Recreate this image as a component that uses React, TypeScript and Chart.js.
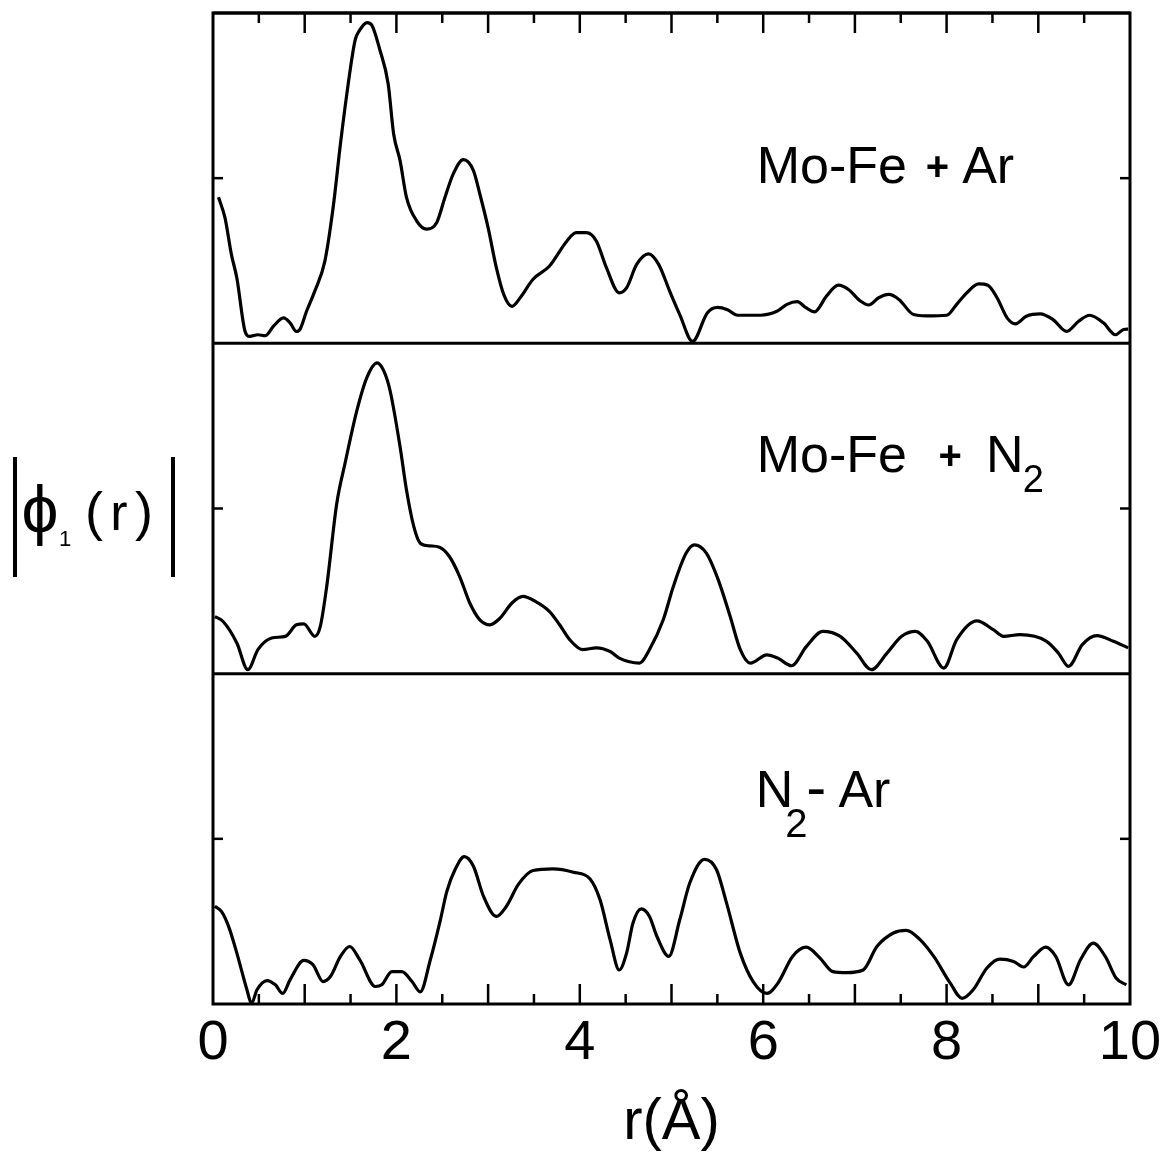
import { useEffect, useRef } from "react";
import { Chart, registerables } from "chart.js";

Chart.register(...registerables);

// ---- Data (r in Å, |phi1(r)| in arbitrary units, each panel spans 0..10) ----
const rMoFeAr = [0.06, 0.13, 0.2, 0.26, 0.35, 0.4, 0.49, 0.57, 0.66, 0.77, 0.84, 0.91, 0.95, 1.02, 1.11, 1.22, 1.31, 1.39, 1.46, 1.55, 1.6, 1.68, 1.73, 1.82, 1.91, 1.97, 2.04, 2.11, 2.22, 2.33, 2.44, 2.53, 2.62, 2.73, 2.84, 2.91, 3.0, 3.09, 3.17, 3.26, 3.35, 3.49, 3.67, 3.86, 3.96, 4.07, 4.18, 4.29, 4.43, 4.51, 4.62, 4.75, 4.86, 4.98, 5.09, 5.23, 5.39, 5.5, 5.61, 5.72, 5.97, 6.15, 6.26, 6.37, 6.47, 6.56, 6.69, 6.82, 6.93, 7.06, 7.15, 7.26, 7.37, 7.48, 7.64, 7.78, 8.0, 8.11, 8.22, 8.35, 8.45, 8.55, 8.66, 8.75, 8.87, 9.02, 9.16, 9.31, 9.44, 9.56, 9.71, 9.84, 9.93, 9.98];
const vMoFeAr = [4.42, 3.81, 2.7, 1.98, 0.36, 0.21, 0.26, 0.23, 0.52, 0.77, 0.62, 0.36, 0.43, 0.97, 1.58, 2.49, 4.11, 6.04, 7.56, 9.18, 9.48, 9.71, 9.64, 8.88, 7.86, 6.34, 5.53, 4.42, 3.71, 3.46, 3.66, 4.42, 5.13, 5.56, 5.23, 4.52, 3.5, 2.29, 1.48, 1.12, 1.38, 1.94, 2.34, 3.1, 3.35, 3.35, 3.1, 2.29, 1.53, 1.68, 2.39, 2.71, 2.39, 1.58, 0.87, 0.06, 0.92, 1.09, 1.02, 0.85, 0.85, 0.97, 1.18, 1.26, 1.07, 0.95, 1.43, 1.76, 1.63, 1.28, 1.16, 1.38, 1.48, 1.33, 0.87, 0.83, 0.85, 1.18, 1.53, 1.8, 1.76, 1.38, 0.77, 0.59, 0.82, 0.89, 0.72, 0.36, 0.67, 0.85, 0.62, 0.26, 0.42, 0.43];

const rMoFeN2 = [0.02, 0.11, 0.26, 0.38, 0.49, 0.64, 0.79, 0.91, 0.99, 1.11, 1.17, 1.24, 1.35, 1.44, 1.57, 1.68, 1.79, 1.86, 1.93, 2.04, 2.11, 2.19, 2.26, 2.36, 2.47, 2.58, 2.69, 2.8, 2.91, 3.02, 3.13, 3.26, 3.38, 3.52, 3.67, 3.78, 3.89, 4.03, 4.18, 4.33, 4.43, 4.65, 4.76, 4.91, 5.02, 5.16, 5.25, 5.38, 5.51, 5.64, 5.75, 5.86, 6.04, 6.16, 6.31, 6.47, 6.65, 6.84, 7.02, 7.18, 7.35, 7.51, 7.66, 7.79, 7.97, 8.11, 8.33, 8.51, 8.62, 8.8, 9.09, 9.22, 9.33, 9.48, 9.64, 9.82, 9.98];
const vMoFeN2 = [1.73, 1.58, 0.93, 0.12, 0.73, 1.08, 1.13, 1.48, 1.51, 1.13, 1.43, 2.64, 5.16, 6.37, 7.98, 8.98, 9.41, 9.18, 8.58, 6.87, 5.56, 4.45, 3.95, 3.87, 3.83, 3.54, 2.94, 2.14, 1.63, 1.48, 1.68, 2.14, 2.34, 2.18, 1.88, 1.48, 1.03, 0.73, 0.78, 0.67, 0.47, 0.32, 0.73, 1.63, 2.64, 3.65, 3.9, 3.65, 2.84, 1.73, 0.73, 0.32, 0.57, 0.47, 0.24, 0.82, 1.28, 1.13, 0.62, 0.12, 0.62, 1.13, 1.28, 0.98, 0.17, 1.03, 1.6, 1.33, 1.13, 1.18, 0.98, 0.62, 0.22, 0.88, 1.15, 0.98, 0.78];

const rN2Ar = [0.02, 0.09, 0.17, 0.26, 0.37, 0.42, 0.48, 0.59, 0.68, 0.76, 0.84, 0.99, 1.09, 1.2, 1.28, 1.39, 1.49, 1.6, 1.77, 1.84, 1.95, 2.06, 2.17, 2.26, 2.37, 2.48, 2.55, 2.64, 2.74, 2.84, 2.95, 3.09, 3.2, 3.33, 3.49, 3.71, 3.93, 4.11, 4.22, 4.33, 4.43, 4.51, 4.58, 4.67, 4.76, 4.84, 4.97, 5.09, 5.2, 5.36, 5.49, 5.6, 5.75, 5.89, 6.04, 6.16, 6.32, 6.47, 6.62, 6.76, 6.91, 7.09, 7.24, 7.42, 7.56, 7.71, 7.86, 8.04, 8.17, 8.29, 8.44, 8.58, 8.73, 8.84, 8.95, 9.08, 9.19, 9.33, 9.46, 9.6, 9.73, 9.85, 9.96];
const vN2Ar = [2.96, 2.81, 2.35, 1.54, 0.43, 0.02, 0.43, 0.71, 0.58, 0.32, 0.73, 1.32, 1.19, 0.68, 0.83, 1.44, 1.74, 1.34, 0.53, 0.58, 0.98, 0.98, 0.68, 0.37, 1.34, 2.55, 3.41, 4.07, 4.46, 4.17, 3.26, 2.65, 2.96, 3.62, 4.04, 4.09, 3.99, 3.79, 3.16, 1.95, 1.03, 1.54, 2.45, 2.88, 2.65, 2.05, 1.44, 2.55, 3.67, 4.38, 4.07, 3.06, 1.54, 0.68, 0.32, 0.63, 1.44, 1.72, 1.39, 0.98, 0.95, 1.03, 1.74, 2.15, 2.23, 1.95, 1.44, 0.63, 0.17, 0.43, 1.09, 1.36, 1.29, 1.12, 1.44, 1.72, 1.44, 0.58, 1.34, 1.84, 1.44, 0.78, 0.58];

const xTickLabels = [0, 2, 4, 6, 8, 10];
const xMin = 0;
const xMax = 10;
const panelMin = 0;
const panelMax = 10;
const minorTickStep = 0.5;
const xTitle = "r(Å)";

const FONT = '"Liberation Sans", Arial, Helvetica, sans-serif';

const toPoints = (xs: number[], ys: number[]) => xs.map((x, i) => ({ x, y: ys[i] }));

function drawText(
  ctx: CanvasRenderingContext2D,
  text: string,
  x: number,
  y: number,
  size: number,
  align: CanvasTextAlign = "left",
  weight = "normal"
) {
  ctx.font = `${weight} ${size}px ${FONT}`;
  ctx.textAlign = align;
  ctx.textBaseline = "alphabetic";
  ctx.fillText(text, x, y);
}

const framePlugin = {
  id: "framePlugin",
  afterDatasetsDraw(chart: any) {
    const { ctx, chartArea: a, scales } = chart;
    const xs = scales.x;
    const yTop = scales.yAr;
    const yMid = scales.yN2;
    const yBot = scales.yDiff;
    ctx.save();
    ctx.strokeStyle = "#000";
    ctx.fillStyle = "#000";
    ctx.lineCap = "butt";
    ctx.lineWidth = 3;
    const line = (x1: number, y1: number, x2: number, y2: number) => {
      ctx.beginPath();
      ctx.moveTo(x1, y1);
      ctx.lineTo(x2, y2);
      ctx.stroke();
    };
    // frame
    ctx.strokeRect(a.left, a.top, a.right - a.left, a.bottom - a.top);
    // panel dividers
    for (const s of [yTop, yMid, yBot]) {
      line(a.left, s.top, a.right, s.top);
    }
    // x ticks on top & bottom edges, inward
    ctx.lineWidth = 2.5;
    const n = Math.round((xMax - xMin) / minorTickStep);
    for (let i = 1; i < n; i++) {
      const v = xMin + i * minorTickStep;
      const px = xs.getPixelForValue(v);
      const len = Number.isInteger(v) ? 20 : 10;
      line(px, a.top, px, a.top + len);
      line(px, a.bottom, px, a.bottom - len);
    }
    // y ticks at panel middle, both sides
    for (const s of [yTop, yMid, yBot]) {
      const py = s.getPixelForValue((panelMin + panelMax) / 2);
      line(a.left, py, a.left + 10, py);
      line(a.right, py, a.right - 10, py);
    }

    // panel labels
    // Mo-Fe + Ar
    drawText(ctx, "Mo-Fe", xs.getPixelForValue(5.93), yTop.getPixelForValue(4.86), 52);
    drawText(ctx, "+", xs.getPixelForValue(7.9), yTop.getPixelForValue(4.95), 40, "center", "bold");
    drawText(ctx, "Ar", xs.getPixelForValue(8.17), yTop.getPixelForValue(4.86), 52);
    // Mo-Fe + N2
    drawText(ctx, "Mo-Fe", xs.getPixelForValue(5.93), yMid.getPixelForValue(6.1), 52);
    drawText(ctx, "+", xs.getPixelForValue(8.04), yMid.getPixelForValue(6.2), 40, "center", "bold");
    drawText(ctx, "N", xs.getPixelForValue(8.43), yMid.getPixelForValue(6.1), 52);
    drawText(ctx, "2", xs.getPixelForValue(8.83), yMid.getPixelForValue(5.5), 38);
    // N2-Ar
    drawText(ctx, "N", xs.getPixelForValue(5.92), yBot.getPixelForValue(5.96), 52);
    drawText(ctx, "2", xs.getPixelForValue(6.24), yBot.getPixelForValue(5.05), 40);
    drawText(ctx, "-", xs.getPixelForValue(6.47), yBot.getPixelForValue(5.96), 60);
    drawText(ctx, "Ar", xs.getPixelForValue(6.82), yBot.getPixelForValue(5.96), 52);

    // y-axis label |ϕ1(r)|
    ctx.lineWidth = 4;
    line(15, 457, 15, 577);
    line(173, 457, 173, 577);
    drawText(ctx, "ϕ", 40, 532, 66, "center");
    drawText(ctx, "1", 65, 546, 22, "center");
    drawText(ctx, "(", 94, 530, 54, "center");
    drawText(ctx, "r", 119, 530, 52, "center");
    drawText(ctx, ")", 144, 530, 54, "center");
    ctx.restore();
  },
};

export default function App() {
  const ref = useRef<HTMLCanvasElement | null>(null);
  useEffect(() => {
    if (!ref.current) return;
    const chart = new Chart(ref.current, {
      type: "line",
      data: {
        datasets: [
          { label: "Mo-Fe + Ar", data: toPoints(rMoFeAr, vMoFeAr), yAxisID: "yAr" },
          { label: "Mo-Fe + N2", data: toPoints(rMoFeN2, vMoFeN2), yAxisID: "yN2" },
          { label: "N2-Ar", data: toPoints(rN2Ar, vN2Ar), yAxisID: "yDiff" },
        ].map((d) => ({
          ...d,
          borderColor: "#000",
          borderWidth: 3.2,
          pointRadius: 0,
          fill: false,
          tension: 0.4,
          cubicInterpolationMode: "monotone" as const,
        })),
      },
      options: {
        animation: false,
        responsive: false,
        events: [],
        layout: { padding: { left: 213, right: 33, top: 13, bottom: 0 } },
        plugins: { legend: { display: false }, tooltip: { enabled: false } },
        scales: {
          x: {
            type: "linear",
            min: xMin,
            max: xMax,
            afterFit: (s: any) => {
              s.height = 148;
              s.paddingLeft = 0;
              s.paddingRight = 0;
            },
            afterBuildTicks: (s: any) => {
              s.ticks = xTickLabels.map((v) => ({ value: v }));
            },
            grid: { display: false, drawTicks: false },
            border: { display: false },
            ticks: {
              color: "#000",
              padding: 6,
              maxRotation: 0,
              autoSkip: false,
              font: { family: FONT, size: 56 },
            },
            title: {
              display: true,
              text: xTitle,
              color: "#000",
              padding: 0,
              font: { family: FONT, size: 58, lineHeight: 1 },
            },
          },
          yAr: { type: "linear", min: panelMin, max: panelMax, stack: "panels", stackWeight: 1, weight: 3, display: false },
          yN2: { type: "linear", min: panelMin, max: panelMax, stack: "panels", stackWeight: 1, weight: 2, display: false },
          yDiff: { type: "linear", min: panelMin, max: panelMax, stack: "panels", stackWeight: 1, weight: 1, display: false },
        },
      } as any,
      plugins: [framePlugin],
    });
    return () => chart.destroy();
  }, []);
  return (
    <canvas
      ref={ref}
      width={1163}
      height={1152}
      style={{ position: "absolute", left: 0, top: 0, background: "#fff" }}
    />
  );
}
